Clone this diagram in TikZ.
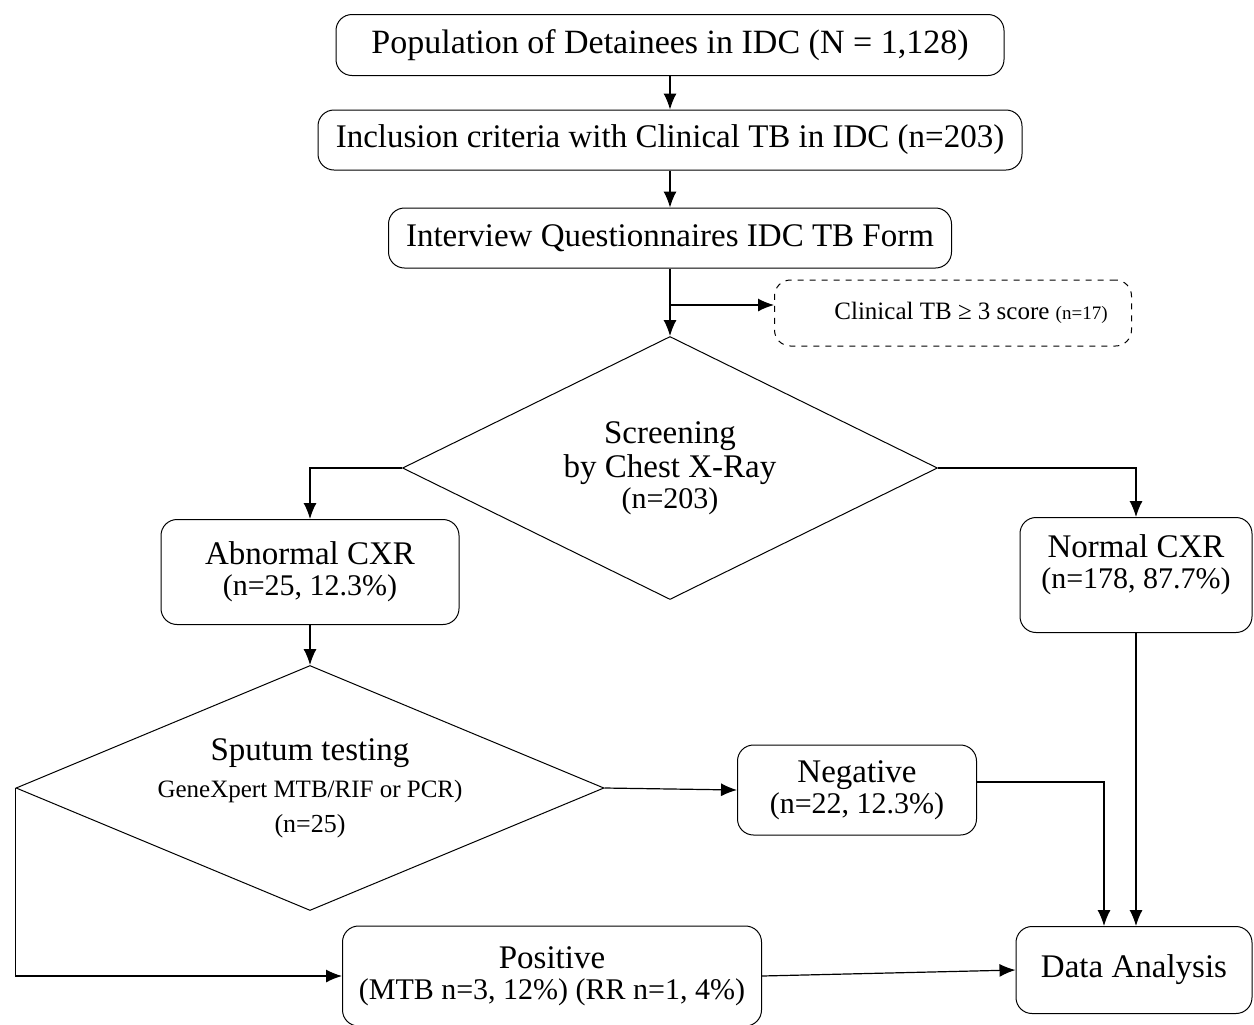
\documentclass[tikz,border=0pt]{standalone}
\usepackage{fontspec}
\setmainfont{Liberation Serif}
\usetikzlibrary{shapes.geometric,arrows.meta}

\begin{document}
\begin{tikzpicture}[x=0.5pt, y=-0.5pt,
  box/.style={draw, rounded corners=8pt, align=center, inner sep=0pt, line width=0.5pt, font=\fontsize{16.5}{16.5}\selectfont},
  decision/.style={draw, diamond, inner sep=0pt, align=center, line width=0.5pt, font=\fontsize{16.5}{16.5}\selectfont},
  arr/.style={-{Latex[length=8pt,width=6.5pt]}, line width=0.6pt}]
\useasboundingbox (0,0) rectangle (1254,1024);

% top of the flow
\node[box, minimum width=334pt, minimum height=30.5pt, font=\fontsize{17}{17}\selectfont] (pop) at (670,45) {Population of Detainees in IDC (N = 1,128)};
\node[box, minimum width=352pt, minimum height=30pt] (incl) at (670,140) {Inclusion criteria with Clinical TB in IDC (n=203)};
\node[box, minimum width=281.5pt, minimum height=30pt] (intv) at (670,238) {Interview Questionnaires IDC TB Form};
\node[box, dashed, minimum width=178.5pt, minimum height=33pt, font=\fontsize{12.5}{12.5}\selectfont] (clin) at (953,313) {\hspace*{18pt}Clinical TB ≥ 3 score {\fontsize{9.5}{9.5}\selectfont(n=17)}};

% chest x-ray
\node[decision, aspect=2, minimum width=267.5pt, minimum height=131.5pt] (screen) at (670,468) {Screening\\[0.5pt]by Chest X-Ray\\[-1pt]{\fontsize{15}{15}\selectfont(n=203)}};
\node[box, minimum width=149pt, minimum height=52.5pt] (abn) at (310,572) {Abnormal CXR\\[-1pt]{\fontsize{15}{15}\selectfont(n=25, 12.3\%)}};
\node[box, minimum width=116pt, minimum height=57.5pt] (norm) at (1136,575) {Normal CXR\\[-1pt]{\fontsize{15}{15}\selectfont(n=178, 87.7\%)}\\[-3pt]};

% sputum
\node[decision, aspect=2.4, minimum width=294pt, minimum height=122.5pt] (sput) at (310,788) {Sputum testing\\[2pt]{\fontsize{12.5}{12.5}\selectfont GeneXpert MTB/RIF or PCR)}\\[1pt]{\fontsize{13}{13}\selectfont(n=25)}};
\node[box, minimum width=119.5pt, minimum height=45pt] (neg) at (857,790) {Negative\\[-1pt]{\fontsize{15}{15}\selectfont(n=22, 12.3\%)}};
\node[box, minimum width=209.5pt, minimum height=50pt] (pos) at (552,976) {Positive\\[-1pt]{\fontsize{15}{15}\selectfont(MTB n=3, 12\%) (RR n=1, 4\%)}};
\node[box, minimum width=118pt, minimum height=43.5pt] (data) at (1134,970) {Data Analysis};

\coordinate (branch) at (670,305);

\draw[arr] (pop) -- (incl);
\draw[arr] (incl) -- (intv);
\draw[arr] (intv) -- (screen.north);
\draw[arr] (branch) -- (branch -| clin.west);
\draw[arr] (screen.west) -| (abn.north);
\draw[arr] (screen.east) -| (norm.north);
\draw[arr] (abn) -- (sput.north);
\draw[arr] (sput.east) -- (neg.west);
\draw[arr] ([yshift=4pt]neg.east) -| ([xshift=-15pt]data.north);
\draw[arr] (norm.south) -- (norm.south |- data.north);
\draw[arr] (sput.west) |- (pos.west);
\draw[arr] (pos.east) -- (data.west);
\end{tikzpicture}
\end{document}
